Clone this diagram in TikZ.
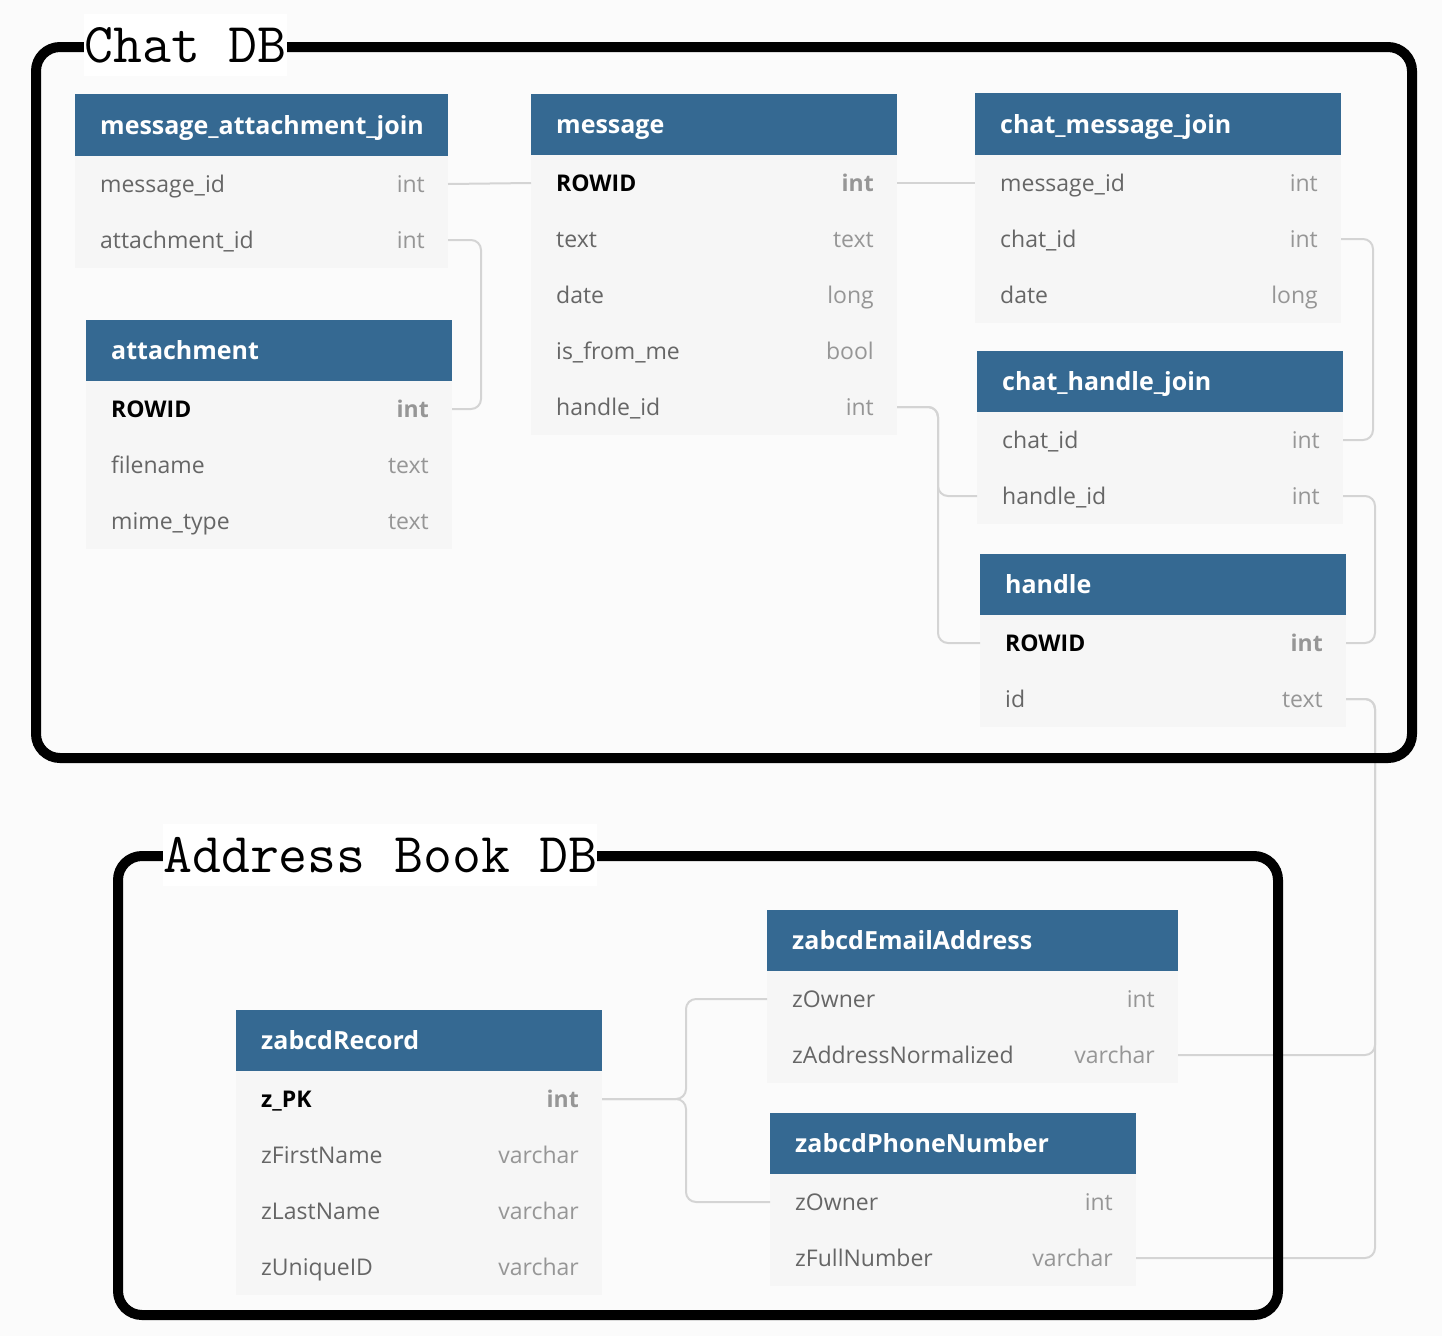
\documentclass[tikz,border=0pt]{standalone}
\usepackage{fontspec}
\setmainfont{Open Sans}
\definecolor{hdr}{RGB}{53,105,146}
\definecolor{rowbg}{RGB}{246,246,246}
\definecolor{pagebg}{RGB}{251,251,251}
\definecolor{fname}{RGB}{102,102,102}
\definecolor{ftype}{RGB}{150,150,150}
\definecolor{conncol}{RGB}{212,212,212}
\tikzset{
  headbox/.style={fill=hdr, draw=none, inner sep=0pt, outer sep=0pt, anchor=north west},
  rowbox/.style={fill=rowbg, draw=none, minimum height=56pt, inner sep=0pt, outer sep=0pt, anchor=north west},
  hdrtext/.style={text=white, font=\fontsize{25}{30}\selectfont\bfseries, inner sep=0pt, anchor=base west},
  fldname/.style={text=fname, font=\fontsize{23}{28}\selectfont, inner sep=0pt, anchor=base west},
  fldtype/.style={text=ftype, font=\fontsize{23}{28}\selectfont, inner sep=0pt, anchor=base east},
  pkname/.style={text=black, font=\fontsize{23}{28}\selectfont\bfseries, inner sep=0pt, anchor=base west},
  pktype/.style={text=ftype, font=\fontsize{23}{28}\selectfont\bfseries, inner sep=0pt, anchor=base east},
  conn/.style={draw=conncol, line width=2pt, rounded corners=10pt},
  dbframe/.style={draw=black, line width=10pt, rounded corners=24pt},
  titlebox/.style={fill=white, text=black, font=\fontsize{56.2}{60}\selectfont\ttfamily,
    inner xsep=0pt, inner ysep=0pt, text height=48pt, text depth=14pt, anchor=base west}
}
% #1 name, #2 x, #3 y, #4 width, #5 height, #6 title
\newcommand\tblhead[6]{%
  \node[headbox, minimum width=#4pt, minimum height=#5pt] (#1) at (#2,#3) {};
  \node[hdrtext] (#1-title) at ([xshift=25pt,yshift=-9pt]#1.west) {#6};
}
% #1 name, #2 x, #3 y, #4 width, #5 field, #6 type, #7 name style, #8 type style
\newcommand\tblrow[8]{%
  \node[rowbox, minimum width=#4pt] (#1) at (#2,#3) {};
  \node[#7] (#1-n) at ([xshift=25pt,yshift=-8.5pt]#1.west) {#5};
  \node[#8] (#1-t) at ([xshift=-23pt,yshift=-8.5pt]#1.east) {#6};
}
\begin{document}
\begin{tikzpicture}[x=1pt,y=-1pt]
\fill[pagebg] (0,0) rectangle (1442,1336);
\useasboundingbox (0,0) rectangle (1442,1336);

% ---- tables ----
\tblhead{maj}{75}{94}{373}{62}{message\_attachment\_join}
\tblrow{maj-mid}{75}{156}{373}{message\_id}{int}{fldname}{fldtype}
\tblrow{maj-aid}{75}{212}{373}{attachment\_id}{int}{fldname}{fldtype}

\tblhead{msg}{531}{94}{366}{61}{message}
\tblrow{msg-rowid}{531}{155}{366}{ROWID}{int}{pkname}{pktype}
\tblrow{msg-text}{531}{211}{366}{text}{text}{fldname}{fldtype}
\tblrow{msg-date}{531}{267}{366}{date}{long}{fldname}{fldtype}
\tblrow{msg-ifm}{531}{323}{366}{is\_from\_me}{bool}{fldname}{fldtype}
\tblrow{msg-hid}{531}{379}{366}{handle\_id}{int}{fldname}{fldtype}

\tblhead{cmj}{975}{93}{366}{62}{chat\_message\_join}
\tblrow{cmj-mid}{975}{155}{366}{message\_id}{int}{fldname}{fldtype}
\tblrow{cmj-cid}{975}{211}{366}{chat\_id}{int}{fldname}{fldtype}
\tblrow{cmj-date}{975}{267}{366}{date}{long}{fldname}{fldtype}

\tblhead{chj}{977}{351}{366}{61}{chat\_handle\_join}
\tblrow{chj-cid}{977}{412}{366}{chat\_id}{int}{fldname}{fldtype}
\tblrow{chj-hid}{977}{468}{366}{handle\_id}{int}{fldname}{fldtype}

\tblhead{hdl}{980}{554}{366}{61}{handle}
\tblrow{hdl-rowid}{980}{615}{366}{ROWID}{int}{pkname}{pktype}
\tblrow{hdl-id}{980}{671}{366}{id}{text}{fldname}{fldtype}

\tblhead{att}{86}{320}{366}{61}{attachment}
\tblrow{att-rowid}{86}{381}{366}{ROWID}{int}{pkname}{pktype}
\tblrow{att-fn}{86}{437}{366}{filename}{text}{fldname}{fldtype}
\tblrow{att-mt}{86}{493}{366}{mime\_type}{text}{fldname}{fldtype}

\tblhead{em}{767}{910}{411}{61}{zabcdEmailAddress}
\tblrow{em-owner}{767}{971}{411}{zOwner}{int}{fldname}{fldtype}
\tblrow{em-addr}{767}{1027}{411}{zAddressNormalized}{varchar}{fldname}{fldtype}

\tblhead{ph}{770}{1113}{366}{61}{zabcdPhoneNumber}
\tblrow{ph-owner}{770}{1174}{366}{zOwner}{int}{fldname}{fldtype}
\tblrow{ph-full}{770}{1230}{366}{zFullNumber}{varchar}{fldname}{fldtype}

\tblhead{rec}{236}{1010}{366}{61}{zabcdRecord}
\tblrow{rec-pk}{236}{1071}{366}{z\_PK}{int}{pkname}{pktype}
\tblrow{rec-fn}{236}{1127}{366}{zFirstName}{varchar}{fldname}{fldtype}
\tblrow{rec-ln}{236}{1183}{366}{zLastName}{varchar}{fldname}{fldtype}
\tblrow{rec-uid}{236}{1239}{366}{zUniqueID}{varchar}{fldname}{fldtype}

% ---- connectors ----
\draw[conn] (maj-mid.east) -- (msg-rowid.west);
\draw[conn] (maj-aid.east) -- ++(33,0) |- (att-rowid.east);
\draw[conn] (msg-rowid.east) -- (cmj-mid.west);
\draw[conn] (msg-hid.east) -- ++(41,0) |- (chj-hid.west);
\draw[conn] (msg-hid.east) -- ++(41,0) |- (hdl-rowid.west);
\draw[conn] (cmj-cid.east) -- ++(32,0) |- (chj-cid.east);
\draw[conn] (chj-hid.east) -- ++(32,0) |- (hdl-rowid.east);
\draw[conn] (hdl-id.east) -- ++(29,0) |- (em-addr.east);
\draw[conn] (hdl-id.east) -- ++(29,0) |- (ph-full.east);
\draw[conn] (rec-pk.east) -- ++(84,0) |- (em-owner.west);
\draw[conn] (rec-pk.east) -- ++(84,0) |- (ph-owner.west);

% ---- frames ----
\draw[dbframe] (36,47) rectangle (1412,758);
\draw[dbframe] (118,856) rectangle (1278,1315);
\node[titlebox] (chattitle) at (84,62) {Chat DB};
\node[titlebox] (abtitle) at (163,872) {Address Book DB};
\end{tikzpicture}
\end{document}
